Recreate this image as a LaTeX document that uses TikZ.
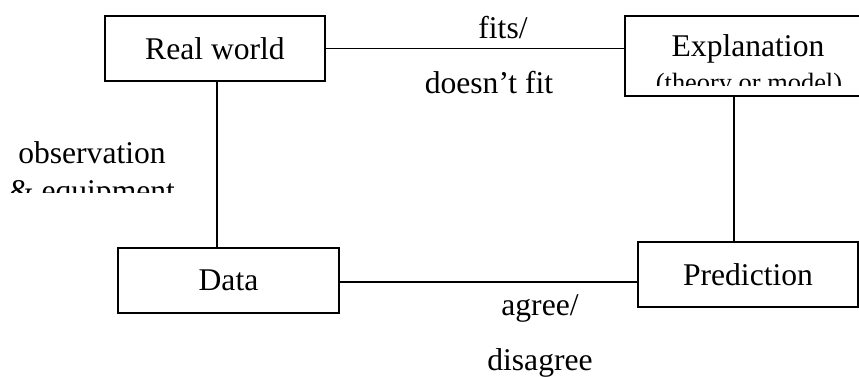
\documentclass[tikz,border=0pt]{standalone}
\usepackage{fontspec}
\setmainfont{Liberation Serif}
\usetikzlibrary{positioning}

\tikzset{
  box/.style={draw, line width=1.1pt, minimum width=110pt, minimum height=32.5pt, inner sep=0pt,
    font=\fontsize{15.8}{19}\selectfont},
  lbl/.style={anchor=base, inner sep=0pt, font=\fontsize{15.8}{19}\selectfont},
  link/.style={line width=0.9pt}
}

\begin{document}
\begin{tikzpicture}[x=0.5pt, y=-0.5pt]
   \useasboundingbox (0,0) rectangle (859,376);
   \clip (0,0) rectangle (859,376);
   \node[box] (real) at (215,48.5) {Real world};
   \node[box, minimum width=118.5pt, minimum height=40pt] (expl) at (743.5,56) {};
   \node[box, minimum width=110.5pt] (data) at (228.5,280.5) {Data};
   \node[box] (pred) at (748,274.5) {Prediction};
   \begin{scope}
     \clip (626,17) rectangle (858,85);
     \node[lbl] (expltxt) at (748,56) {Explanation};
     \node[lbl, font=\fontsize{13.2}{16}\selectfont] (expltxt2) at (749,91) {(theory or model)};
   \end{scope}
   \draw[link] (real.east) -- (real.east -| expl.west);
   \draw[link] ([xshift=1pt]real.south) -- ([xshift=1pt]real.south |- data.north);
   \draw[link] ([yshift=-0.7pt]data.east) -- ([yshift=-0.7pt]data.east -| pred.west);
   \draw[link] ([xshift=-7pt]pred.north) -- ([xshift=-7pt]pred.north |- expl.south);
   \node[lbl] (fits) at (503,38) {fits/};
   \node[lbl] (nofit) at (489,93) {doesn’t fit};
   \node[lbl] (agree) at (540,315) {agree/};
   \node[lbl] (disagree) at (540,370) {disagree};
   \node[lbl] (obs) at (92,163) {observation};
   \begin{scope}
     \clip (0,150) rectangle (200,192);
     \node[lbl] (equip) at (92,201) {\&\ equipment};
   \end{scope}
\end{tikzpicture}
\end{document}
